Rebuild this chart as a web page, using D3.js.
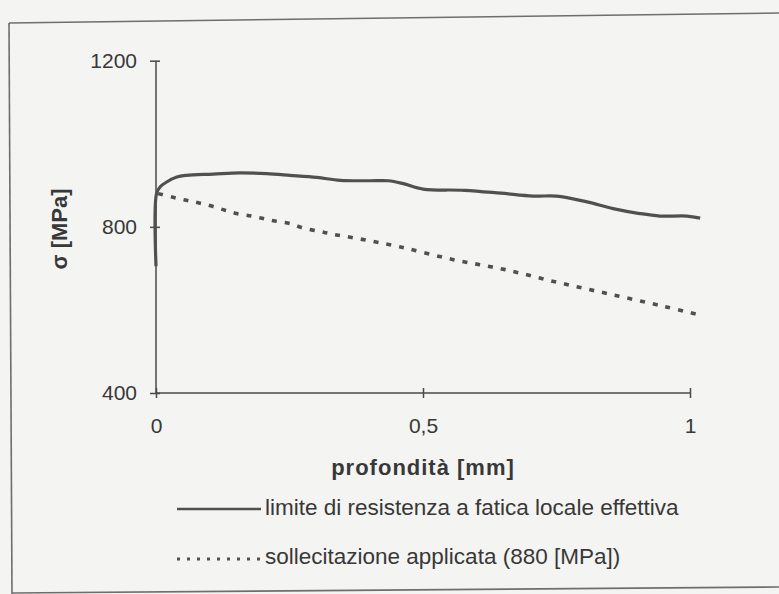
<!DOCTYPE html>
<html>
<head>
<meta charset="utf-8">
<title>sigma vs profondita</title>
<style type="text/css">
	body{ margin:0; background:#f4f4f2; }
	#board{ width:779px; height:594px; }
	text{ font-family:"Liberation Sans", Arial, sans-serif; fill:#383838; }
</style>
</head>
<body>
<div id="board"></div>
<script src="https://cdn.jsdelivr.net/npm/d3@7"></script>
<script>
// limite di resistenza a fatica locale effettiva
var limDepth = [0, 0.001, 0.0075, 0.02, 0.039, 0.057, 0.107, 0.157, 0.207, 0.251, 0.301, 0.345, 0.40, 0.435, 0.463, 0.50, 0.578, 0.646, 0.706, 0.75, 0.807, 0.856, 0.906, 0.944, 0.994, 1.019];
var limSigma = [705, 880, 896, 908, 920, 924, 927, 930, 928, 924, 919, 912, 911, 911, 904, 891, 888, 881, 874, 874, 860, 844, 832, 826, 826, 821];

// sollecitazione applicata (880 MPa)
var appDepth = [0.004, 0.032, 0.057, 0.079, 0.104, 0.129, 0.151, 0.179, 0.201, 0.223, 0.251, 0.276, 0.307, 0.332, 0.377, 0.456, 0.557, 0.654, 0.753, 0.850, 0.950, 1.021];
var appSigma = [880, 871, 864, 858, 850, 840, 832, 826, 820, 814, 808, 797, 789, 782, 772, 752, 721, 697, 666, 638, 609, 587];

var xTicks = [0, 0.5, 1];
var yTicks = [400, 800, 1200];
var legendLabels = ["limite di resistenza a fatica locale effettiva", "sollecitazione applicata (880 [MPa])"];

var svg = d3.select('#board').append('svg')
	.attr('width', 779).attr('height', 594);

// scanned page frame
var frame = svg.append('g').attr('stroke', '#6e6e6e').attr('stroke-width', 1.6).attr('fill', 'none');
frame.append('line').attr('x1', 9).attr('y1', 23).attr('x2', 779).attr('y2', 13);
frame.append('line').attr('x1', 9).attr('y1', 23).attr('x2', 12).attr('y2', 594);
frame.append('line').attr('x1', 12).attr('y1', 593).attr('x2', 779).attr('y2', 587);

var x = d3.scaleLinear().domain([0, 1]).range([156, 690]);
var y = d3.scaleLinear().domain([400, 1200]).range([393, 60.7]);

var fmt = function(d){ return String(d).replace('.', ','); };

var gx = svg.append('g').attr('transform', 'translate(0,' + y(400) + ')')
	.call(d3.axisBottom(x).tickValues(xTicks).tickFormat(fmt).tickSize(5).tickPadding(20));
gx.selectAll('.tick line').attr('y1', -5);

var gy = svg.append('g').attr('transform', 'translate(' + x(0) + ',0)')
	.call(d3.axisLeft(y).tickValues(yTicks).tickFormat(d3.format('d')).tickSize(6).tickPadding(13));
gy.selectAll('.tick line').attr('x1', 4);

svg.selectAll('.domain, .tick line').attr('stroke', '#4a4a4a').attr('stroke-width', 1.5);
svg.selectAll('.tick text').attr('font-size', 21).attr('fill', '#383838');
gx.select('.domain').attr('d', 'M' + x(0) + ',0H' + x(1));
gy.select('.domain').attr('d', 'M0,' + y(400) + 'V' + y(1200));

var lim = limDepth.map(function(d, i){ return { x: d, y: limSigma[i] }; });
var app = appDepth.map(function(d, i){ return { x: d, y: appSigma[i] }; });

var line = d3.line()
	.x(function(d){ return x(d.x); })
	.y(function(d){ return y(d.y); })
	.curve(d3.curveCatmullRom.alpha(0.5));

svg.append('path').datum(lim)
	.attr('d', line).attr('fill', 'none')
	.attr('stroke', '#505050').attr('stroke-width', 3.2).attr('stroke-linejoin', 'round');

svg.append('path').datum(app)
	.attr('d', line).attr('fill', 'none')
	.attr('stroke', '#505050').attr('stroke-width', 3.6).attr('stroke-dasharray', '5,8');

// axis titles
svg.append('text')
	.attr('transform', 'translate(67,229) rotate(-90)')
	.attr('text-anchor', 'middle').attr('font-weight', 'bold').attr('font-size', 22)
	.text('σ [MPa]');

svg.append('text')
	.attr('x', 423).attr('y', 475)
	.attr('text-anchor', 'middle').attr('font-weight', 'bold').attr('font-size', 22)
	.attr('letter-spacing', 1)
	.text('profondità [mm]');

// legend
var leg = svg.append('g');
leg.append('line').attr('x1', 177).attr('x2', 261).attr('y1', 509).attr('y2', 509)
	.attr('stroke', '#505050').attr('stroke-width', 2.5);
leg.append('line').attr('x1', 177).attr('x2', 261).attr('y1', 559).attr('y2', 559)
	.attr('stroke', '#505050').attr('stroke-width', 3).attr('stroke-dasharray', '3,7');
leg.selectAll('.lt').data(legendLabels).enter().append('text')
	.attr('class', 'lt')
	.attr('x', 265)
	.attr('y', function(d, i){ return 515 + i * 49; })
	.attr('font-size', 22.5)
	.text(function(d){ return d; });
</script>
</body>
</html>
